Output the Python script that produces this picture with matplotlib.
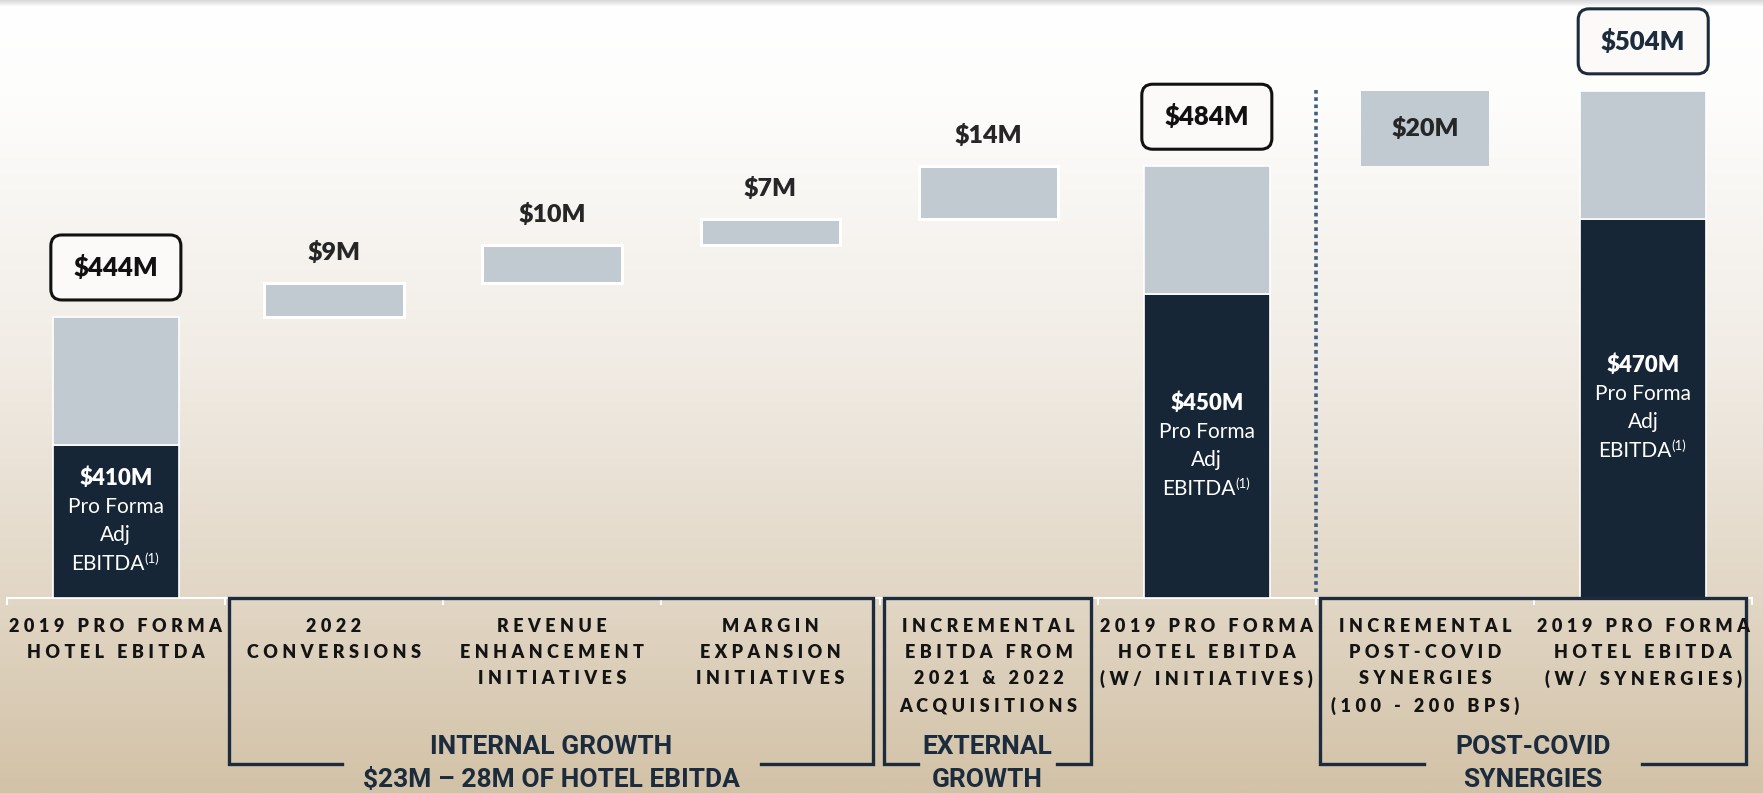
import numpy as np
import matplotlib.pyplot as plt
import matplotlib.transforms as mtransforms
from matplotlib.patches import FancyBboxPatch
from matplotlib.colors import LinearSegmentedColormap
from matplotlib import font_manager

# values, in $M
total_pos = [0, 5, 7]
total_values = [444, 484, 504]
total_labels = ["$444M", "$484M", "$504M"]
base_values = [410, 450, 470]
base_labels = ["$410M", "$450M", "$470M"]

step_pos = [1, 2, 3, 4, 6]
step_values = [9, 10, 7, 14, 20]
step_labels = ["$9M", "$10M", "$7M", "$14M", "$20M"]

categories = [
    ["2019 PRO FORMA", "HOTEL EBITDA"],
    ["2022", "CONVERSIONS"],
    ["REVENUE", "ENHANCEMENT", "INITIATIVES"],
    ["MARGIN", "EXPANSION", "INITIATIVES"],
    ["INCREMENTAL", "EBITDA FROM", "2021 & 2022", "ACQUISITIONS"],
    ["2019 PRO FORMA", "HOTEL EBITDA", "(W/ INITIATIVES)"],
    ["INCREMENTAL", "POST-COVID", "SYNERGIES", "(100 - 200 BPS)"],
    ["2019 PRO FORMA", "HOTEL EBITDA", "(W/ SYNERGIES)"],
]

group_titles = [["INTERNAL GROWTH", "$23M \u2013 28M OF HOTEL EBITDA"],
                ["EXTERNAL", "GROWTH"],
                ["POST-COVID", "SYNERGIES"]]
group_first = [1, 4, 6]
group_last = [3, 4, 7]

# colours / styles
NAVY = '#172636'
GREY = '#c1c9d1'
FRAME = '#1c2c3d'
gap_half = [0.96, 0.32, 0.50]
box_edges = ['#111111', '#111111', '#1c2c3d']

plt.rcParams['font.family'] = ['Lato', 'DejaVu Sans']
installed = {f.name for f in font_manager.fontManager.ttflist}
NARROW = 'Liberation Sans Narrow' if 'Liberation Sans Narrow' in installed else 'Roboto'

fig = plt.figure(figsize=(17.63, 7.93), dpi=100)
ax = fig.add_axes([0, 0, 1, 1])
x0, x1 = -0.531, 7.549
y0, y1 = 317.7, 528.1
ax.set_xlim(x0, x1)
ax.set_ylim(y0, y1)
ax.axis('off')

floor = 369.5  # the value axis is broken: bars start here
px_per_x = 1763 / (x1 - x0)
px_per_y = 793 / (y1 - y0)

# background gradient, white at the top to sand at the bottom
bg = LinearSegmentedColormap.from_list('bg', [(0, '#ffffff'), (0.12, '#fdfdfc'),
                                              (0.45, '#f1ece5'), (0.75, '#e2d7c6'),
                                              (1, '#d2c2a7')])
grad = np.linspace(0, 1, 400).reshape(-1, 1)
ax.imshow(grad, cmap=bg, aspect='auto', extent=(x0, x1, y0, y1), origin='upper', zorder=0)
# faint shadow at the very top
shade = np.zeros((20, 1, 4))
shade[..., :3] = 0.55
shade[:, 0, 3] = np.linspace(0.35, 0, 20)
ax.imshow(shade, aspect='auto', extent=(x0, x1, y1 - 7 / px_per_y, y1), origin='upper', zorder=0.5)

# stacked total bars
base_arr = np.array(base_values)
tot_arr = np.array(total_values)
ax.bar(total_pos, base_arr - floor, bottom=floor, width=0.58, color=NAVY,
       edgecolor='white', linewidth=1.2, zorder=2)
ax.bar(total_pos, tot_arr - base_arr, bottom=base_arr, width=0.58, color=GREY,
       edgecolor='white', linewidth=1.2, zorder=2)

# floating steps
step_bottoms = total_values[0] + np.concatenate([[0], np.cumsum(step_values)[:-1]])
inside = [False, False, False, False, True]
ax.bar(step_pos, step_values, bottom=step_bottoms,
       width=[0.64, 0.64, 0.64, 0.64, 0.59], color=GREY,
       edgecolor='white', linewidth=[2.2, 2.2, 2.2, 2.2, 0], zorder=2)

for p, v, b, lab, ins in zip(step_pos, step_values, step_bottoms, step_labels, inside):
    if ins:
        ax.text(p, b + v / 2, lab, ha='center', va='center', fontsize=18,
                fontweight='heavy', color='#262626', zorder=4)
    else:
        ax.annotate(lab, xy=(p, b + v), xytext=(0, 22), textcoords='offset points',
                    ha='center', va='center', fontsize=18, fontweight='heavy',
                    color='#262626', zorder=4)

# rounded total boxes
bw, bh = 0.596, 65 / px_per_y
for p, t, lab, ec in zip(total_pos, total_values, total_labels, box_edges):
    yb = t + 17 / px_per_y
    box = FancyBboxPatch((p - bw / 2, yb), bw, bh,
                         boxstyle='round,pad=0,rounding_size=0.05',
                         mutation_aspect=px_per_x / px_per_y,
                         fc='#fbfaf8', ec=ec, lw=2.2, zorder=3)
    ax.add_patch(box)
    ax.text(p, yb + bh / 2, lab, ha='center', va='center', fontsize=18.5,
            fontweight='heavy', color=ec, zorder=4)

# text inside dark bars
for p, b, lab in zip(total_pos, base_values, base_labels):
    mid = (b + floor) / 2
    offs = [-43, -14, 14, 43]
    ax.annotate(lab, xy=(p, mid), xytext=(0, -offs[0] * 0.72), textcoords='offset points',
                ha='center', va='center', fontsize=16, fontweight='heavy', color='white', zorder=4)
    ax.annotate("Pro Forma", xy=(p, mid), xytext=(0, -offs[1] * 0.72), textcoords='offset points',
                ha='center', va='center', fontsize=15, color='white', zorder=4)
    ax.annotate("Adj", xy=(p, mid), xytext=(0, -offs[2] * 0.72), textcoords='offset points',
                ha='center', va='center', fontsize=15, color='white', zorder=4)
    eb = ax.annotate("EBITDA", xy=(p, mid), xytext=(-6, -offs[3] * 0.72), textcoords='offset points',
                     ha='center', va='center', fontsize=15, color='white', zorder=4)
    ax.annotate("(1)", xy=(1.0, 0.45), xycoords=eb, ha='left', va='bottom',
                fontsize=9.5, color='white', zorder=4)

# white baseline with small ticks at category boundaries
ax.plot([-0.5, 7.5], [floor, floor], color='white', lw=1.5, zorder=1)
for b in np.arange(-0.5, 8, 1.0):
    ax.plot([b, b], [floor, floor - 6 / px_per_y], color='white', lw=1.5, zorder=1)

# dotted separator
ax.plot([5.5, 5.5], [floor + 6 / px_per_y, floor + 508 / px_per_y], color='#3e5f80',
        lw=2.6, ls=(0, (1, 1)), zorder=1)

# category labels, letter spaced
trans = mtransforms.blended_transform_factory(ax.transData, ax.transAxes)
for i, lines in enumerate(categories):
    for k, line in enumerate(lines):
        ax.text(i, 1 - (626 + 26.5 * k) / 793, '\u2009\u200a\u200a'.join(line), transform=trans,
                ha='center', va='center', fontsize=13, fontweight='heavy',
                color='#141414', zorder=4)

# group brackets
ftop = (floor - y0) / (y1 - y0)
fbot = 1 - 764 / 793
for title, a, b, gh in zip(group_titles, group_first, group_last, gap_half):
    left, right = a - 0.48, b + 0.47
    c = (left + right) / 2
    ax.plot([c - gh, left, left, right, right, c + gh],
            [fbot, fbot, ftop, ftop, fbot, fbot], transform=trans,
            color=FRAME, lw=2.4, solid_joinstyle='miter', zorder=3)
    ax.text(c, 1 - 747 / 793, title[0], transform=trans, ha='center', va='center',
            fontsize=19, fontweight='bold', family=NARROW, color=FRAME, zorder=4)
    ax.text(c, 1 - 780 / 793, title[1], transform=trans, ha='center', va='center',
            fontsize=19, fontweight='bold', family=NARROW, color=FRAME, zorder=4)

fig.savefig('out.png', dpi=100)
